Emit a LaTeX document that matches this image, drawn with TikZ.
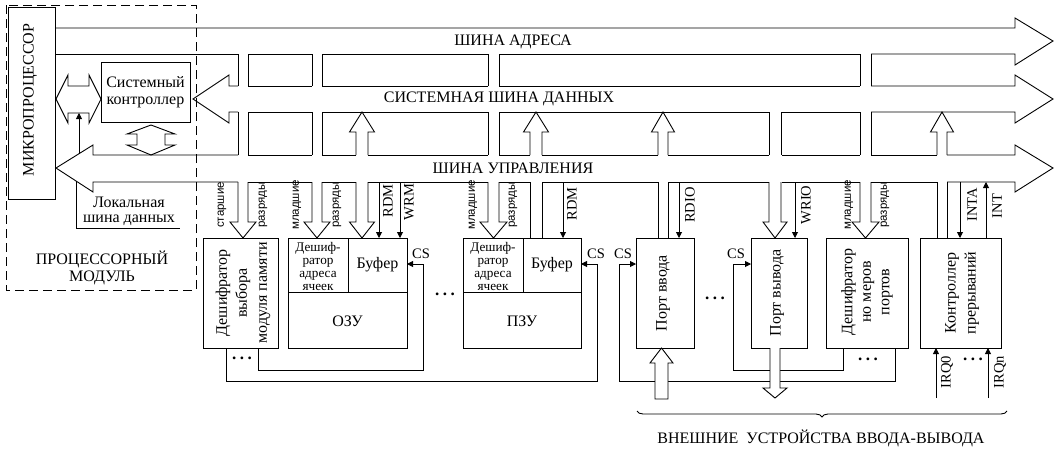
\documentclass[tikz,border=0pt]{standalone}
\usepackage{fontspec}
\setmainfont{Liberation Serif}
\newfontfamily\sansf{Liberation Sans}
\usetikzlibrary{arrows.meta,decorations.pathreplacing}
\begin{document}
\begin{tikzpicture}[x=1pt,y=-1pt, line width=0.9pt,
  every node/.style={inner sep=0pt, outer sep=0pt},
  box/.style={draw, rectangle, line width=0.9pt},
  sig/.style={-{Triangle[length=6pt,width=6pt]}},
  fat/.style={draw, fill=white, line join=miter},
  lbl/.style={font=\fontsize{16}{16}\selectfont},
  rlbl/.style={font=\fontsize{16}{20}\selectfont, rotate=90, align=center},
  small/.style={font=\fontsize{14.5}{14.5}\selectfont},
  rsmall/.style={font=\fontsize{14.5}{14.5}\selectfont, rotate=90},
  sl/.style={font=\sansf\fontsize{11.5}{11.5}\selectfont, rotate=90},
  dots/.style={font=\bfseries\fontsize{17}{17}\selectfont},
  cellt/.style={font=\fontsize{13.2}{13}\selectfont},
]
\useasboundingbox (0,0) rectangle (1058,448);

% ---------------- processor module ----------------
\draw[dash pattern=on 9pt off 5pt] (6,5) rectangle (196,290);
\node[box, minimum width=47pt, minimum height=192pt] (mp) at (31.5,103) {};
\node[rlbl] (mpt) at (30,100) {МИКРОПРОЦЕССОР};
\node[box, minimum width=89pt, minimum height=60pt, align=center,
      font=\fontsize{16}{17}\selectfont] (sc) at (145.5,92) {Системный\\контроллер};
% local data bus double arrow
\draw[fat] (56,99) -- (68,75) -- (68,86) -- (89,86) -- (89,75) -- (101,99)
  -- (89,123) -- (89,113) -- (68,113) -- (68,123) -- cycle;
% controller <-> control bus
\draw[fat] (151,125) -- (175,134) -- (165,134) -- (165,145) -- (175,145) -- (151,155)
  -- (127,145) -- (137,145) -- (137,134) -- (127,134) -- cycle;
\draw[sig] (79,154) -- (79,113);
\draw (76,181) -- (76,228) -- (180,228);
\node[align=center, font=\fontsize{16}{15}\selectfont] (lsd) at (129,211) {Локальная\\шина данных};
\node[align=center, font=\fontsize{16}{17}\selectfont] (pm) at (102,268) {ПРОЦЕССОРНЫЙ\\МОДУЛЬ};

% ---------------- address bus ----------------
\draw (55,28) -- (1015,28) -- (1015,18) -- (1053,41) -- (1015,65) -- (1015,54) -- (871,54);
\draw (860,54) -- (499,54);
\draw (488,54) -- (322,54);
\draw (312,54) -- (248,54);
\draw (238,54) -- (55,54);
\node[lbl] (ab) at (513,42) {ШИНА АДРЕСА};

% ---------------- data bus ----------------
\draw (238,86) -- (229,86) -- (229,75) -- (193,99) -- (229,123) -- (229,112) -- (238,112);
\draw (248,86) -- (312,86);
\draw (322,86) -- (488,86);
\draw (499,86) -- (860,86);
\draw (871,86) -- (1015,86) -- (1015,75) -- (1053,99) -- (1015,123) -- (1015,112) -- (871,112);
\draw (860,112) -- (782,112);
\draw (769,112) -- (499,112);
\draw (488,112) -- (322,112);
\draw (312,112) -- (248,112);
\node[lbl] (db) at (499,99) {СИСТЕМНАЯ ШИНА ДАННЫХ};

% ---------------- control bus ----------------
\draw (238,155) -- (93,155) -- (93,145) -- (56,168) -- (93,192) -- (93,182) -- (238,182);
\foreach \a/\b in {248/312,322/356,368/488,499/530,542/658,668/769,782/860,871/937}{
  \draw (\a,155) -- (\b,155);
  \draw (\a,182) -- (\b,182);
}
\draw (947,155) -- (1015,155) -- (1015,145) -- (1053,168) -- (1015,192) -- (1015,182) -- (947,182);
\node[lbl] (cb) at (513,168) {ШИНА УПРАВЛЕНИЯ};

% ---------------- boxes ----------------
\node[box, minimum width=75pt, minimum height=110pt] (dec1) at (240.5,293) {};
\node[rlbl] (dec1t) at (243,293) {Дешифратор\\выбора\\модуля памяти};

\node[box, minimum width=119pt, minimum height=110pt] (ozu) at (347.5,293) {};
\node[box, minimum width=60pt, minimum height=54pt] (ozudec) at (318,265) {};
\node[cellt, align=center] (ozudect) at (318,266) {Дешиф-\\ратор\\адреса\\ячеек};
\node[box, minimum width=59pt, minimum height=54pt, lbl] (ozubuf) at (377.5,265) {Буфер};
\node[lbl] (ozut) at (347.5,321) {ОЗУ};

\node[box, minimum width=118pt, minimum height=110pt] (pzu) at (522,293) {};
\node[box, minimum width=60pt, minimum height=54pt] (pzudec) at (493,265) {};
\node[cellt, align=center] (pzudect) at (493,266) {Дешиф-\\ратор\\адреса\\ячеек};
\node[box, minimum width=58pt, minimum height=54pt, lbl] (pzubuf) at (552,265) {Буфер};
\node[lbl] (pzut) at (522,321) {ПЗУ};

\node[box, minimum width=58pt, minimum height=110pt] (pin) at (665,293) {};
\node[rlbl] (pint) at (663,293) {Порт ввода};
\node[box, minimum width=56pt, minimum height=110pt] (pout) at (779,293) {};
\node[rlbl] (poutt) at (777,293) {Порт вывода};
\node[box, minimum width=82pt, minimum height=110pt] (dec2) at (867,293) {};
\node[rlbl, font=\fontsize{16}{18.5}\selectfont] (dec2t) at (867,292) {Дешифратор\\но меров\\портов};
\node[box, minimum width=81pt, minimum height=110pt] (ic) at (960.5,293) {};
\node[rlbl] (ict) at (962,293) {Контроллер\\прерываний};

% ---------------- address channels ----------------
\foreach \a/\b in {238/248,312/322,488/499,860/871}{
  \draw (\a,54) -- (\a,86) (\b,54) -- (\b,86) (\a,112) -- (\a,155) (\b,112) -- (\b,155);
  \draw[line join=miter] (\a,182) -- (\a,222) -- ({\a-8},222) -- ({(\a+\b)/2},238)
     -- ({\b+8},222) -- (\b,222) -- (\b,182);
}
% ---------------- data channels ----------------
\foreach \a/\b in {356/368,530/542,658/668,937/947}{
  \draw[line join=miter] (\a,155) -- (\a,132) -- ({\a-6.5},132) -- ({(\a+\b)/2},112)
     -- ({\b+6.5},132) -- (\b,132) -- (\b,155);
}
\draw[line join=miter] (356,182) -- (356,222) -- (349.5,222) -- (362,238) -- (374.5,222) -- (368,222) -- (368,182);
\foreach \a/\b in {530/542,658/668,937/947}{
  \draw (\a,182) -- (\a,238) (\b,182) -- (\b,238);
}
\draw (769,112) -- (769,155) (781,112) -- (781,155);
\draw[line join=miter] (769,182) -- (769,222) -- (763,222) -- (775,238) -- (787,222) -- (781,222) -- (781,182);

% ---------------- signals ----------------
\draw[sig] (379,182) -- (379,238);
\draw[sig] (400,182) -- (400,238);
\draw[sig] (563,182) -- (563,238);
\draw[sig] (679,182) -- (679,238);
\draw[sig] (795,182) -- (795,238);
\draw[sig] (960,182) -- (960,238);
\draw[sig] (986,238) -- (986,182);
\draw[sig] (936,398) -- (936,348);
\draw[sig] (988,398) -- (988,348);

% ---------------- CS loops ----------------
\draw[sig] (258,348) -- (258,370) -- (423,370) -- (423,264) -- (407,264);
\draw[sig] (226,348) -- (226,381) -- (597,381) -- (597,264) -- (581,264);
\draw[sig] (895,348) -- (895,381) -- (619,381) -- (619,264) -- (636,264);
\draw[sig] (843,348) -- (843,370) -- (733,370) -- (733,264) -- (751,264);

% external device arrows
\draw[fat] (655,399) -- (655,363) -- (650,363) -- (661.5,348) -- (673,363) -- (668,363) -- (668,399) -- cycle;
\draw[fat] (770,348) -- (770,388) -- (763,388) -- (775,398) -- (787,388) -- (780,388) -- (780,348);

% ---------------- labels ----------------
\node[sl] (l1) at (222,205) {старшие};
\node[sl] (l2) at (263,205) {разряды};
\node[sl] (l3) at (297,205) {младшие};
\node[sl] (l4) at (337,205) {разряды};
\node[sl] (l5) at (473,205) {младшие};
\node[sl] (l6) at (513,205) {разряды};
\node[sl] (l7) at (849,205) {младшие};
\node[sl] (l8) at (885,205) {разряды};

\node[rsmall] (s1) at (388,201) {RDM};
\node[rsmall] (s2) at (409,202) {WRM};
\node[rsmall] (s3) at (572,204) {RDM};
\node[rsmall] (s4) at (690,205) {RDIO};
\node[rsmall] (s5) at (806,205) {WRIO};
\node[rsmall] (s6) at (972,205) {INTA};
\node[rsmall] (s7) at (997,206) {INT};
\node[rsmall] (s8) at (947,372) {IRQ0};
\node[rsmall] (s9) at (1000,372) {IRQn};

\node[small] (c1) at (421,254) {CS};
\node[small] (c2) at (596,254) {CS};
\node[small] (c3) at (623,254) {CS};
\node[small] (c4) at (736,254) {CS};

\node[dots] (d1) at (242,358) {.\hspace{3.5pt}.\hspace{3.5pt}.};
\node[dots] (d2) at (445,294) {.\hspace{3.5pt}.\hspace{3.5pt}.};
\node[dots] (d3) at (715,298) {.\hspace{3.5pt}.\hspace{3.5pt}.};
\node[dots] (d4) at (868,359) {.\hspace{3.5pt}.\hspace{3.5pt}.};
\node[dots] (d5) at (973,359) {.\hspace{3.5pt}.\hspace{3.5pt}.};

\draw[decorate, decoration={brace, amplitude=6pt}] (1007,411) -- (637,411);
\node[lbl] (ext) at (821,438) {ВНЕШНИЕ\ \ УСТРОЙСТВА ВВОДА-ВЫВОДА};
\end{tikzpicture}
\end{document}
